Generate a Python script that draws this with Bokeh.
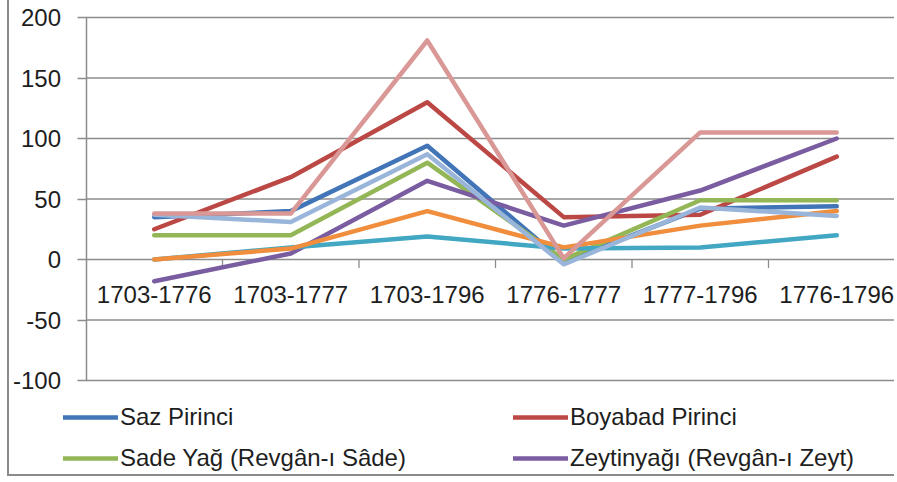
from bokeh.plotting import figure
from bokeh.models import Range1d, FixedTicker, LinearAxis, Legend, LegendItem, ColumnDataSource
from bokeh.core.properties import value
from bokeh.embed import file_html
from bokeh.resources import INLINE

# ---- data ----
categories = ["1703-1776", "1703-1777", "1703-1796", "1776-1777", "1777-1796", "1776-1796"]
saz_pirinci = [35, 40, 94, -2, 42, 44]
boyabad_pirinci = [25, 68, 130, 35, 37, 85]
sade_yag = [20, 20, 80, 0, 49, 49]
zeytinyagi = [-18, 5, 65, 28, 57, 100]
series_5 = [0, 10, 19, 9, 10, 20]
series_6 = [0, 9, 40, 10, 28, 40]
series_7 = [37, 31, 87, -4, 43, 36]
series_8 = [38, 38, 181, 1, 105, 105]
y_ticks = [-100, -50, 0, 50, 100, 150, 200]
y_tick_labels = ["-100", "-50", "0", "50", "100", "150", "200"]
legend_names = ["Saz Pirinci", "Boyabad Pirinci", "Sade Yağ (Revgân-ı Sâde)", "Zeytinyağı (Revgân-ı Zeyt)"]

series = [saz_pirinci, boyabad_pirinci, sade_yag, zeytinyagi, series_5, series_6, series_7, series_8]
colors = ["#4275B7", "#BB4845", "#93B656", "#7A5CA0", "#41A7C2", "#F08E3E", "#99B5D9", "#D99896"]

FONT = "Liberation Sans"
TEXT = "#1e1e1e"
GRAY = "#8c8c8c"

# ---- layout (pixels) ----
W, H = 887, 476          # canvas
axis_px = 76.5           # y axis position from canvas left
top_px = 17              # y of top tick from canvas top
plot_h = 363             # pixel height of the tick span
cat_w = 136.5            # pixel width of one category

ppu = plot_h / (y_ticks[-1] - y_ticks[0])
x_start = -axis_px / cat_w
x_end = x_start + W / cat_w
y_end = y_ticks[-1] + top_px / ppu
y_start = y_end - H / ppu

xs = [i + 0.5 for i in range(len(categories))]

p = figure(width=W, height=H, output_backend="svg", toolbar_location=None,
           x_range=Range1d(x_start, x_end), y_range=Range1d(y_start, y_end),
           min_border_left=0, min_border_right=0, min_border_top=0, min_border_bottom=0,
           x_axis_location=None, y_axis_location=None,
           styles={"margin-left": "7px", "border-left": "2px solid #8a8a8a",
                   "border-bottom": "2px solid #8a8a8a"})
p.outline_line_color = None
p.background_fill_color = "white"
p.border_fill_color = "white"
p.xgrid.visible = False
p.ygrid.visible = False

# horizontal gridlines (include the category axis line at 0)
p.segment(x0=[0] * len(y_ticks), y0=y_ticks, x1=[x_end] * len(y_ticks), y1=y_ticks,
          line_color=GRAY, line_width=1.3)

# y axis at x = 0
ax = LinearAxis(fixed_location=0, bounds=(y_ticks[0], y_ticks[-1]),
                ticker=FixedTicker(ticks=y_ticks))
ax.major_label_overrides = {t: s for t, s in zip(y_ticks, y_tick_labels)}
ax.axis_line_color = GRAY
ax.axis_line_width = 1.5
ax.major_tick_line_color = GRAY
ax.major_tick_line_width = 1.3
ax.major_tick_out = 9
ax.major_tick_in = 0
ax.minor_tick_line_color = None
ax.major_label_text_font = FONT
ax.major_label_text_font_size = "24px"
ax.major_label_text_color = TEXT
ax.major_label_standoff = 16
p.add_layout(ax, "left")

# category ticks and labels on the 0 line
bounds = list(range(1, len(categories)))
p.segment(x0=bounds, y0=[0] * len(bounds), x1=bounds, y1=[-7] * len(bounds),
          line_color=GRAY, line_width=1.3)
p.text(x=xs, y=[0] * len(xs), text=categories, text_align="center", text_baseline="middle",
       y_offset=35, text_font=value(FONT), text_font_size="24px", text_color=TEXT)

renderers = []
for vals, c in zip(series, colors):
    src = ColumnDataSource(dict(x=xs, y=vals))
    r = p.line("x", "y", source=src, line_color=c, line_width=4.5,
               line_join="round", line_cap="round")
    renderers.append(r)

def make_legend(idx, loc):
    return Legend(items=[LegendItem(label=legend_names[i], renderers=[renderers[i]]) for i in idx],
                  location=loc, orientation="vertical",
                  glyph_width=55, glyph_height=28, label_height=28,
                  label_standoff=2, spacing=13, padding=0, margin=0,
                  border_line_color=None, background_fill_alpha=0,
                  label_text_font=FONT, label_text_font_size="24px", label_text_color=TEXT)

p.add_layout(make_legend([0, 2], (54, 4)))
p.add_layout(make_legend([1, 3], (504, 4)))

open("out.html", "w").write(file_html(p, INLINE))
